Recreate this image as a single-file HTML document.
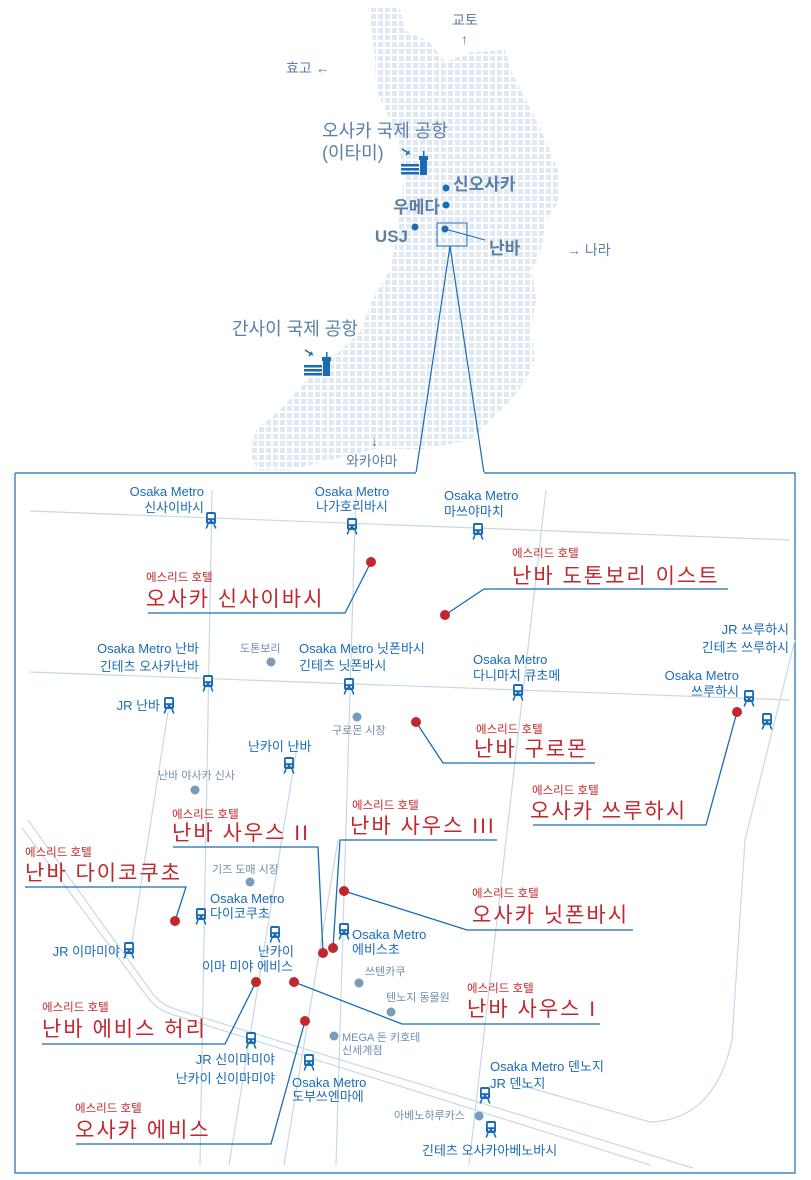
<!DOCTYPE html>
<html><head><meta charset="utf-8"><style>
html,body{margin:0;padding:0;background:#fff;}
svg{display:block;}
text{font-family:"Liberation Sans","Noto Sans CJK KR",sans-serif;}
.b{fill:#1a6bb5;font-size:13px;}
.g{fill:#6f8fae;font-size:11px;}
.s{fill:#c1272d;font-size:11.5px;}
.n{fill:#c1272d;font-size:21px;letter-spacing:2px;}
.t{fill:#5b7fa6;}
.road{stroke:#c9d8e6;stroke-width:1.2;fill:none;}
.ul{stroke:#1a6bb5;stroke-width:1.3;fill:none;}
.hd{fill:#c1272d;}
.sp{fill:#7a9cbb;}
</style></head><body>
<svg width="811" height="1180" viewBox="0 0 811 1180" xmlns="http://www.w3.org/2000/svg">
<defs>
<pattern id="grid" width="7" height="7" patternUnits="userSpaceOnUse"><rect x="0" y="0" width="5" height="5" fill="#dfe9f3"/></pattern>
<symbol id="tr" viewBox="1.5 0 11 18" width="14" height="18">
<rect x="2" y="1" width="10" height="12" rx="2" fill="#1a6bb5"/>
<rect x="3.8" y="3" width="6.4" height="4.2" fill="#fff"/>
<rect x="4" y="9" width="1.6" height="1.6" fill="#fff"/><rect x="8.4" y="9" width="1.6" height="1.6" fill="#fff"/>
<path d="M4 13 L2.2 17.5 M10 13 L11.8 17.5" stroke="#1a6bb5" stroke-width="1.6"/>
</symbol>
<symbol id="ap" viewBox="0 0 30 30" width="30" height="30">
<path d="M2 2 L10 7 M6 8 L9 4" stroke="#1a6bb5" stroke-width="1.6"/>
<rect x="1" y="17" width="18" height="2.5" fill="#1a6bb5"/><rect x="1" y="21" width="18" height="2.5" fill="#1a6bb5"/><rect x="1" y="25" width="18" height="2.5" fill="#1a6bb5"/>
<rect x="20" y="12" width="7" height="16" fill="#1a6bb5"/><rect x="19" y="9" width="9" height="4" fill="#1a6bb5"/><rect x="23" y="4" width="1.5" height="6" fill="#1a6bb5"/>
</symbol>
</defs>

<!-- top map -->
<polygon fill="url(#grid)" points="368,8 400,8 405,30 430,42 445,62 470,52 505,50 512,72 522,92 536,120 550,150 560,175 560,200 546,220 541,250 532,270 536,300 531,330 535,360 526,380 511,400 491,420 471,440 420,450 380,448 330,460 290,470 258,470 250,455 256,430 280,410 305,382 330,360 360,332 372,300 390,270 396,240 400,210 404,180 400,150 390,120 376,90 375,60 372,30"/>
<text x="452" y="25" class="t" font-size="14">교토</text>
<text x="461" y="44" class="t" font-size="14">↑</text>
<text x="286" y="73" class="t" font-size="14">효고 ←</text>
<text x="322" y="137" class="t" font-size="18">오사카 국제 공항</text>
<text x="322" y="159" class="t" font-size="18">(이타미)</text>
<use href="#ap" x="400" y="147" width="30" height="30"/>
<circle cx="446" cy="188" r="3.5" fill="#1a6bb5"/>
<text x="453" y="190" class="t" font-size="17" font-weight="bold">신오사카</text>
<circle cx="446" cy="205" r="3.5" fill="#1a6bb5"/>
<text x="440" y="213" class="t" font-size="17" font-weight="bold" text-anchor="end">우메다</text>
<circle cx="415" cy="227" r="3.5" fill="#1a6bb5"/>
<text x="408" y="242" class="t" font-size="17" font-weight="bold" text-anchor="end">USJ</text>
<rect x="437" y="223" width="30" height="23" fill="none" stroke="#1a6bb5" stroke-width="1"/>
<circle cx="445" cy="229" r="3.5" fill="#1a6bb5"/>
<line x1="445" y1="229" x2="485" y2="240" stroke="#1a6bb5" stroke-width="1"/>
<text x="489" y="254" class="t" font-size="17" font-weight="bold">난바</text>
<text x="567" y="255" class="t" font-size="14">→ 나라</text>
<text x="232" y="335" class="t" font-size="18">간사이 국제 공항</text>
<use href="#ap" x="303" y="348" width="30" height="30"/>
<text x="371" y="446" class="t" font-size="14">↓</text>
<text x="346" y="466" class="t" font-size="14">와카야마</text>
<polyline points="15,473 416,473 450,246 484,473 795,473 795,1173 15,1173 15,473" fill="none" stroke="#1a6bb5" stroke-width="1.2"/>
<line x1="416" y1="473" x2="484" y2="473" stroke="#fff" stroke-width="2"/>

<!-- roads -->
<line class="road" x1="30" y1="511" x2="790" y2="540"/>
<line class="road" x1="30" y1="672" x2="790" y2="700"/>
<line class="road" x1="212" y1="490" x2="200" y2="1165"/>
<line class="road" x1="356" y1="490" x2="336" y2="1165"/>
<line class="road" x1="298" y1="740" x2="229" y2="1165"/>
<line class="road" x1="338" y1="840" x2="284" y2="1165"/>
<line class="road" x1="546" y1="490" x2="469" y2="1165"/>
<line class="road" x1="168" y1="712" x2="130" y2="955"/>
<path class="road" d="M28 820 L150 990 Q160 1005 178 1010 L693 1168"/>
<path class="road" d="M22 828 L146 995 Q156 1010 174 1015 L650 1165"/>
<path class="road" d="M795 640 L745 840 L732 1040 Q715 1120 650 1122 L520 1085"/>

<!-- stations -->
<use href="#tr" x="204" y="511"/>
<use href="#tr" x="345" y="517"/>
<use href="#tr" x="471" y="522"/>
<use href="#tr" x="201" y="674"/>
<use href="#tr" x="342" y="677"/>
<use href="#tr" x="511" y="683"/>
<use href="#tr" x="742" y="689"/>
<use href="#tr" x="760" y="712"/>
<use href="#tr" x="162" y="696"/>
<use href="#tr" x="282" y="756"/>
<use href="#tr" x="194" y="907"/>
<use href="#tr" x="268" y="925"/>
<use href="#tr" x="337" y="922"/>
<use href="#tr" x="122" y="941"/>
<use href="#tr" x="244" y="1031"/>
<use href="#tr" x="302" y="1053"/>
<use href="#tr" x="478" y="1086"/>
<use href="#tr" x="484" y="1120"/>

<!-- station labels -->
<text class="b" x="204" y="496" text-anchor="end">Osaka Metro</text>
<text class="b" x="204" y="512" text-anchor="end">신사이바시</text>
<text class="b" x="352" y="496" text-anchor="middle">Osaka Metro</text>
<text class="b" x="352" y="511" text-anchor="middle">나가호리바시</text>
<text class="b" x="444" y="500">Osaka Metro</text>
<text class="b" x="444" y="516">마쓰야마치</text>
<text class="b" x="199" y="653" text-anchor="end">Osaka Metro 난바</text>
<text class="b" x="199" y="671" text-anchor="end">긴테츠 오사카난바</text>
<text class="b" x="299" y="653">Osaka Metro 닛폰바시</text>
<text class="b" x="299" y="670">긴테츠 닛폰바시</text>
<text class="b" x="473" y="664">Osaka Metro</text>
<text class="b" x="473" y="680">다니마치 큐초메</text>
<text class="b" x="739" y="680" text-anchor="end">Osaka Metro</text>
<text class="b" x="739" y="696" text-anchor="end">쓰루하시</text>
<text class="b" x="789" y="634" text-anchor="end">JR 쓰루하시</text>
<text class="b" x="789" y="652" text-anchor="end">긴테츠 쓰루하시</text>
<text class="b" x="160" y="710" text-anchor="end">JR 난바</text>
<text class="b" x="248" y="751">난카이 난바</text>
<text class="b" x="210" y="903">Osaka Metro</text>
<text class="b" x="210" y="918">다이코쿠초</text>
<text class="b" x="276" y="956" text-anchor="middle">난카이</text>
<text class="b" x="293" y="971" text-anchor="end">이마 미야 에비스</text>
<text class="b" x="352" y="939">Osaka Metro</text>
<text class="b" x="352" y="954">에비스초</text>
<text class="b" x="120" y="956" text-anchor="end">JR 이마미야</text>
<text class="b" x="275" y="1064" text-anchor="end">JR 신이마미야</text>
<text class="b" x="275" y="1083" text-anchor="end">난카이 신이마미야</text>
<text class="b" x="292" y="1087">Osaka Metro</text>
<text class="b" x="292" y="1101">도부쓰엔마에</text>
<text class="b" x="490" y="1071">Osaka Metro 덴노지</text>
<text class="b" x="490" y="1088">JR 덴노지</text>
<text class="b" x="422" y="1155">긴테츠 오사카아베노바시</text>

<!-- spots -->
<circle class="sp" cx="271" cy="662" r="4.5"/><text class="g" x="240" y="652">도톤보리</text>
<circle class="sp" cx="357" cy="717" r="4.5"/><text class="g" x="332" y="734">구로몬 시장</text>
<circle class="sp" cx="195" cy="790" r="4.5"/><text class="g" x="158" y="779">난바 야사카 신사</text>
<circle class="sp" cx="250" cy="882" r="4.5"/><text class="g" x="212" y="873">기즈 도매 시장</text>
<circle class="sp" cx="359" cy="983" r="4.5"/><text class="g" x="365" y="975">쓰텐카쿠</text>
<circle class="sp" cx="391" cy="1012" r="4.5"/><text class="g" x="386" y="1001">텐노지 동물원</text>
<circle class="sp" cx="334" cy="1036" r="4.5"/><text class="g" x="342" y="1041">MEGA 돈 키호테</text><text class="g" x="342" y="1054">신세계점</text>
<circle class="sp" cx="479" cy="1116" r="4.5"/><text class="g" x="394" y="1119">아베노하루카스</text>

<!-- hotels -->
<polyline class="ul" points="148,613 345,613 371,562"/><circle class="hd" cx="371" cy="562" r="5"/>
<text class="s" x="146" y="581">에스리드 호텔</text><text class="n" x="146" y="606">오사카 신사이바시</text>

<polyline class="ul" points="728,589 484,589 445,615"/><circle class="hd" cx="445" cy="615" r="5"/>
<text class="s" x="512" y="557">에스리드 호텔</text><text class="n" x="512" y="583">난바 도톤보리 이스트</text>

<polyline class="ul" points="416,722 443,763 595,763"/><circle class="hd" cx="416" cy="722" r="5"/>
<text class="s" x="476" y="733">에스리드 호텔</text><text class="n" x="474" y="756">난바 구로몬</text>

<polyline class="ul" points="533,825 706,825 737,712"/><circle class="hd" cx="737" cy="712" r="5"/>
<text class="s" x="532" y="794">에스리드 호텔</text><text class="n" x="530" y="818">오사카 쓰루하시</text>

<polyline class="ul" points="173,847 318,847 323,953"/><circle class="hd" cx="323" cy="953" r="5"/>
<text class="s" x="172" y="818">에스리드 호텔</text><text class="n" x="172" y="840">난바 사우스 II</text>

<polyline class="ul" points="497,840 340,840 333,948"/><circle class="hd" cx="333" cy="948" r="5"/>
<text class="s" x="352" y="809">에스리드 호텔</text><text class="n" x="350" y="833">난바 사우스 III</text>

<polyline class="ul" points="25,887 186,887 175,921"/><circle class="hd" cx="175" cy="921" r="5"/>
<text class="s" x="25" y="856">에스리드 호텔</text><text class="n" x="25" y="880">난바 다이코쿠초</text>

<polyline class="ul" points="344,891 467,930 633,930"/><circle class="hd" cx="344" cy="891" r="5"/>
<text class="s" x="472" y="897">에스리드 호텔</text><text class="n" x="472" y="922">오사카 닛폰바시</text>

<polyline class="ul" points="294,982 402,1024 600,1024"/><circle class="hd" cx="294" cy="982" r="5"/>
<text class="s" x="467" y="992">에스리드 호텔</text><text class="n" x="467" y="1016">난바 사우스 I</text>

<polyline class="ul" points="42,1044 225,1044 256,982"/><circle class="hd" cx="256" cy="982" r="5"/>
<text class="s" x="42" y="1011">에스리드 호텔</text><text class="n" x="42" y="1036">난바 에비스 허리</text>

<polyline class="ul" points="76,1144 271,1144 305,1021"/><circle class="hd" cx="305" cy="1021" r="5"/>
<text class="s" x="75" y="1112">에스리드 호텔</text><text class="n" x="75" y="1137">오사카 에비스</text>
</svg>
</body></html>
